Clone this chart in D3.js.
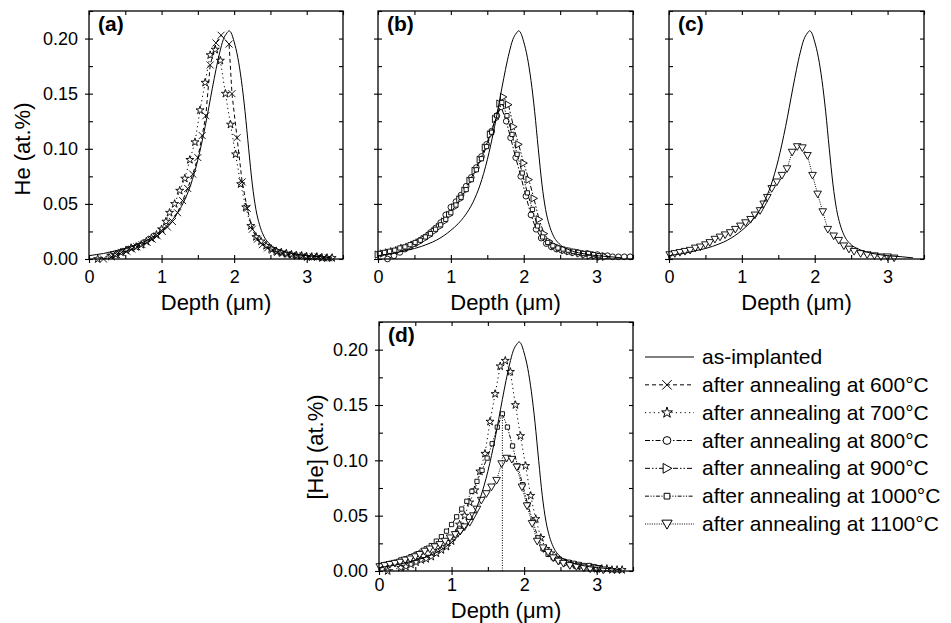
<!DOCTYPE html>
<html>
<head>
<meta charset="utf-8">
<script src="https://cdn.jsdelivr.net/npm/d3@7"></script>
<style>
  body { margin: 0; background: #fff; }
  text { font-family: "Liberation Sans", Arial, sans-serif; fill: #000; }
</style>
</head>
<body>
<svg id="chart" width="951" height="623"></svg>
<script>
// ---- data (depth in um, He in at.%) ----
const depthTicks = [0, 1, 2, 3];
const depthMinor = [0, 0.5, 1, 1.5, 2, 2.5, 3, 3.5];
const heTicks = [0, 0.05, 0.10, 0.15, 0.20];
const heMinor = [0, 0.025, 0.05, 0.075, 0.10, 0.125, 0.15, 0.175, 0.20, 0.225];

const asImplanted = [[0.0,0.003],[0.1,0.004],[0.2,0.005],[0.3,0.0065],[0.4,0.008],[0.5,0.0095],[0.6,0.0115],[0.7,0.014],[0.8,0.017],[0.9,0.021],[1.0,0.026],[1.1,0.032],[1.2,0.040],[1.3,0.051],[1.4,0.067],[1.5,0.090],[1.6,0.120],[1.7,0.155],[1.75,0.172],[1.8,0.187],[1.85,0.199],[1.9,0.205],[1.93,0.207],[1.96,0.205],[2.0,0.197],[2.05,0.183],[2.1,0.162],[2.15,0.134],[2.2,0.100],[2.25,0.068],[2.3,0.045],[2.35,0.031],[2.4,0.022],[2.5,0.013],[2.6,0.009],[2.7,0.0065],[2.8,0.005],[3.0,0.003],[3.2,0.002],[3.35,0.001]];

const ann600 = [[0.20,0.000],[0.31,0.002],[0.38,0.004],[0.45,0.006],[0.52,0.007],[0.59,0.009],[0.66,0.011],[0.73,0.013],[0.80,0.015],[0.87,0.018],[0.94,0.021],[1.01,0.025],[1.08,0.029],[1.15,0.034],[1.22,0.042],[1.29,0.053],[1.36,0.064],[1.43,0.077],[1.50,0.092],[1.56,0.112],[1.61,0.130],[1.67,0.176],[1.75,0.196],[1.82,0.203],[1.93,0.195],[1.97,0.150],[2.04,0.110],[2.11,0.070],[2.18,0.046],[2.25,0.027],[2.32,0.018],[2.39,0.013],[2.46,0.010],[2.53,0.008],[2.60,0.006],[2.67,0.005],[2.74,0.004],[2.81,0.004],[2.88,0.003],[2.95,0.003],[3.02,0.002],[3.09,0.002],[3.16,0.002],[3.23,0.001],[3.30,0.001]];

const ann700 = [[0.12,0.000],[0.30,0.003],[0.37,0.004],[0.44,0.006],[0.51,0.008],[0.58,0.010],[0.65,0.011],[0.72,0.013],[0.79,0.016],[0.86,0.019],[0.93,0.022],[1.00,0.027],[1.06,0.034],[1.11,0.042],[1.18,0.050],[1.25,0.062],[1.32,0.073],[1.39,0.090],[1.46,0.106],[1.53,0.135],[1.60,0.160],[1.67,0.185],[1.74,0.190],[1.81,0.180],[1.88,0.150],[1.95,0.122],[2.02,0.095],[2.09,0.068],[2.16,0.047],[2.23,0.030],[2.30,0.020],[2.37,0.016],[2.44,0.012],[2.51,0.009],[2.58,0.007],[2.65,0.006],[2.72,0.005],[2.79,0.004],[2.86,0.003],[2.93,0.003],[3.00,0.002],[3.07,0.002],[3.14,0.002],[3.21,0.001],[3.28,0.001],[3.35,0.001]];

const ann800 = [[0.13,0.000],[0.22,0.003],[0.30,0.006],[0.37,0.009],[0.44,0.011],[0.51,0.014],[0.58,0.017],[0.65,0.020],[0.72,0.024],[0.79,0.028],[0.86,0.033],[0.93,0.040],[1.00,0.047],[1.07,0.052],[1.14,0.058],[1.21,0.066],[1.28,0.074],[1.35,0.083],[1.42,0.093],[1.49,0.104],[1.56,0.116],[1.63,0.130],[1.69,0.138],[1.76,0.125],[1.82,0.110],[1.89,0.092],[1.96,0.075],[2.03,0.057],[2.10,0.040],[2.17,0.027],[2.24,0.019],[2.31,0.014],[2.38,0.011],[2.45,0.009],[2.52,0.008],[2.59,0.007],[2.66,0.006],[2.73,0.006],[2.80,0.005],[2.87,0.005],[2.94,0.004],[3.01,0.004],[3.08,0.003],[3.15,0.003],[3.22,0.002],[3.30,0.002],[3.38,0.002],[3.46,0.002]];

const ann900 = [[0.00,0.004],[0.07,0.005],[0.14,0.006],[0.21,0.007],[0.28,0.008],[0.35,0.010],[0.42,0.011],[0.49,0.013],[0.56,0.015],[0.63,0.018],[0.70,0.021],[0.77,0.025],[0.84,0.029],[0.91,0.034],[0.98,0.040],[1.05,0.047],[1.12,0.054],[1.19,0.062],[1.26,0.071],[1.33,0.080],[1.40,0.090],[1.47,0.101],[1.54,0.113],[1.61,0.127],[1.67,0.141],[1.72,0.147],[1.79,0.140],[1.86,0.120],[1.93,0.104],[2.00,0.087],[2.07,0.072],[2.14,0.055],[2.21,0.036],[2.28,0.023],[2.35,0.016],[2.42,0.012],[2.49,0.010],[2.56,0.008],[2.63,0.007],[2.70,0.006],[2.77,0.005],[2.84,0.004],[2.91,0.003],[2.98,0.003],[3.05,0.002],[3.12,0.002]];

const ann1000 = [[0.02,0.005],[0.09,0.006],[0.16,0.007],[0.23,0.008],[0.30,0.010],[0.37,0.011],[0.44,0.013],[0.51,0.015],[0.58,0.017],[0.65,0.020],[0.72,0.023],[0.79,0.027],[0.86,0.031],[0.93,0.036],[1.00,0.042],[1.07,0.049],[1.14,0.056],[1.21,0.063],[1.28,0.072],[1.35,0.081],[1.42,0.091],[1.49,0.102],[1.56,0.115],[1.63,0.130],[1.70,0.142],[1.77,0.130],[1.84,0.113],[1.91,0.095],[1.98,0.078],[2.05,0.060],[2.12,0.045],[2.19,0.030],[2.26,0.020],[2.33,0.015],[2.40,0.012],[2.47,0.010],[2.54,0.009],[2.61,0.008],[2.68,0.007],[2.75,0.006],[2.82,0.005],[2.89,0.005],[2.96,0.004],[3.03,0.003]];

const ann1100 = [[0.01,0.004],[0.08,0.005],[0.15,0.006],[0.22,0.007],[0.29,0.008],[0.36,0.010],[0.43,0.011],[0.50,0.013],[0.56,0.015],[0.63,0.018],[0.70,0.020],[0.77,0.022],[0.84,0.024],[0.91,0.027],[0.98,0.030],[1.05,0.033],[1.12,0.036],[1.18,0.040],[1.25,0.044],[1.30,0.050],[1.35,0.056],[1.41,0.064],[1.48,0.070],[1.55,0.076],[1.62,0.082],[1.69,0.097],[1.76,0.102],[1.83,0.101],[1.90,0.094],[1.97,0.076],[2.04,0.059],[2.11,0.043],[2.18,0.027],[2.26,0.021],[2.33,0.017],[2.40,0.012],[2.47,0.009],[2.54,0.007],[2.63,0.005],[2.72,0.004],[2.82,0.003],[2.91,0.002],[3.00,0.002],[3.09,0.001]];

// dotted marker line in (d): depth of the 1000 C maximum
const peakDepth = 1.70;
const peakHe = 0.142;

const legendLabels = ["as-implanted", "after annealing at 600°C", "after annealing at 700°C",
  "after annealing at 800°C", "after annealing at 900°C", "after annealing at 1000°C",
  "after annealing at 1100°C"];

// ---- styles ----
const series = {
  asImpl: { data: asImplanted, dash: null, marker: null, curve: d3.curveMonotoneX },
  a600: { data: ann600, dash: "4,3", marker: "cross" },
  a700: { data: ann700, dash: "1.2,3.2", marker: "star" },
  a800: { data: ann800, dash: "5,2,1.5,2", marker: "circle" },
  a900: { data: ann900, dash: "5,2,1.5,2,1.5,2", marker: "tright" },
  a1000: { data: ann1000, dash: "4,1.5,1.2,1.5,1.2,1.5", marker: "square" },
  a1100: { data: ann1100, dash: "1,1.3", marker: "tdown" }
};
const legendKeys = ["asImpl", "a600", "a700", "a800", "a900", "a1000", "a1100"];

const panels = [
  { label: "(a)", x0: 89, x1: 343, y0: 11, y1: 259, keys: ["a700", "a600", "asImpl"], yLabels: true,
    yTitle: "He (at.%)", yTitleX: 30, yTitleY: 149, xTitleY: 310, tickPad: 7 },
  { label: "(b)", x0: 378, x1: 633, y0: 11, y1: 259, keys: ["a800", "a900", "a1000", "asImpl"], yLabels: false,
    xTitleY: 310, tickPad: 7 },
  { label: "(c)", x0: 669, x1: 924, y0: 11, y1: 259, keys: ["a1100", "asImpl"], yLabels: false,
    xTitleY: 310, tickPad: 7 },
  { label: "(d)", x0: 379, x1: 633, y0: 322, y1: 571, keys: ["a700", "a1000", "a1100", "asImpl"], yLabels: true,
    yTitle: "[He] (at.%)", yTitleX: 323, yTitleY: 447, xTitleY: 618, tickPad: 3, vline: true }
];

const svg = d3.select("#chart");

function markerPath(type, s) {
  s = s || 1;
  if (type === "cross") { const r = 3.5 * s; return `M${-r},${-r}L${r},${r}M${-r},${r}L${r},${-r}`; }
  if (type === "star") return d3.symbol(d3.symbolStar, 20 * s * s)();
  if (type === "circle") return d3.symbol(d3.symbolCircle, 26 * s * s)();
  if (type === "square") return d3.symbol(d3.symbolSquare, 18 * s * s)();
  if (type === "tright") { const r = 3.6 * s; return `M${-r * 0.8},${-r}L${r},0L${-r * 0.8},${r}Z`; }
  if (type === "tdown") { const r = 3.8 * s; return `M${-r},${-r * 0.75}L${r},${-r * 0.75}L0,${r}Z`; }
  return "";
}

function drawSeries(g, s, x, y) {
  g.append("path")
    .datum(s.data)
    .attr("fill", "none")
    .attr("stroke", "#000")
    .attr("stroke-width", 1)
    .attr("stroke-dasharray", s.dash)
    .attr("d", d3.line().x(d => x(d[0])).y(d => y(d[1])).curve(s.curve || d3.curveLinear));
  if (s.marker) {
    g.selectAll(null)
      .data(s.data)
      .join("path")
      .attr("transform", d => `translate(${x(d[0])},${y(d[1])})`)
      .attr("d", markerPath(s.marker))
      .attr("fill", s.marker === "cross" ? "none" : "#fff")
      .attr("stroke", "#000")
      .attr("stroke-width", 0.9);
  }
}

panels.forEach(p => {
  const x = d3.scaleLinear().domain([0, 3.5]).range([p.x0, p.x1]);
  const y = d3.scaleLinear().domain([0, 0.225]).range([p.y1, p.y0]);
  const g = svg.append("g");

  // data
  p.keys.forEach(k => drawSeries(g, series[k], x, y));

  if (p.vline) {
    g.append("line")
      .attr("x1", x(peakDepth)).attr("x2", x(peakDepth))
      .attr("y1", y(0)).attr("y2", y(peakHe))
      .attr("stroke", "#000").attr("stroke-width", 1).attr("stroke-dasharray", "1,1.5");
  }

  // axes: outward major ticks with labels, inward ticks mirrored on all sides
  g.append("g").attr("transform", `translate(0,${p.y1})`)
    .call(d3.axisBottom(x).tickValues(depthTicks).tickFormat(d3.format("d")).tickSizeInner(4).tickSizeOuter(0).tickPadding(p.tickPad));
  g.append("g").attr("transform", `translate(0,${p.y1})`)
    .call(d3.axisTop(x).tickValues(depthMinor).tickSize(4).tickFormat(""));
  g.append("g").attr("transform", `translate(0,${p.y0})`)
    .call(d3.axisBottom(x).tickValues(depthMinor).tickSize(4).tickFormat(""));

  g.append("g").attr("transform", `translate(${p.x0},0)`)
    .call(d3.axisLeft(y).tickValues(heTicks).tickFormat(p.yLabels ? d3.format(".2f") : "").tickSizeInner(4).tickSizeOuter(0).tickPadding(7));
  g.append("g").attr("transform", `translate(${p.x0},0)`)
    .call(d3.axisRight(y).tickValues(heMinor).tickSize(4).tickFormat(""));
  g.append("g").attr("transform", `translate(${p.x1},0)`)
    .call(d3.axisLeft(y).tickValues(heMinor).tickSize(4).tickFormat(""));

  g.selectAll(".domain").remove();
  g.selectAll(".tick line").attr("stroke", "#000").attr("stroke-width", 1.1);
  g.selectAll(".tick text").attr("font-size", 18).attr("font-family", null);

  g.append("rect")
    .attr("x", p.x0).attr("y", p.y0)
    .attr("width", p.x1 - p.x0).attr("height", p.y1 - p.y0)
    .attr("fill", "none").attr("stroke", "#000").attr("stroke-width", 1.3);

  g.append("text")
    .attr("x", p.x0 + 9).attr("y", p.y0 + 20)
    .attr("font-size", 21).attr("font-weight", "bold")
    .text(p.label);

  g.append("text")
    .attr("x", (p.x0 + p.x1) / 2).attr("y", p.xTitleY)
    .attr("text-anchor", "middle").attr("font-size", 22)
    .text("Depth (\u03bcm)");

  if (p.yTitle) {
    g.append("text")
      .attr("transform", `translate(${p.yTitleX},${p.yTitleY}) rotate(-90)`)
      .attr("text-anchor", "middle").attr("font-size", 22)
      .text(p.yTitle);
  }
});

// ---- legend ----
const legend = svg.append("g");
const legendY = d3.scaleLinear().domain([0, legendKeys.length - 1]).range([357, 524]);
legendKeys.forEach((k, i) => {
  const s = series[k];
  const yy = legendY(i);
  legend.append("line")
    .attr("x1", 645).attr("x2", 694).attr("y1", yy).attr("y2", yy)
    .attr("stroke", "#000").attr("stroke-width", 1)
    .attr("stroke-dasharray", s.dash);
  if (s.marker) {
    legend.append("path")
      .attr("transform", `translate(667,${yy})`)
      .attr("d", markerPath(s.marker, 1.35))
      .attr("fill", s.marker === "cross" ? "none" : "#fff")
      .attr("stroke", "#000").attr("stroke-width", 1);
  }
  legend.append("text")
    .attr("x", 702).attr("y", yy + 7)
    .attr("font-size", 21)
    .text(legendLabels[i]);
});
</script>
</body>
</html>
